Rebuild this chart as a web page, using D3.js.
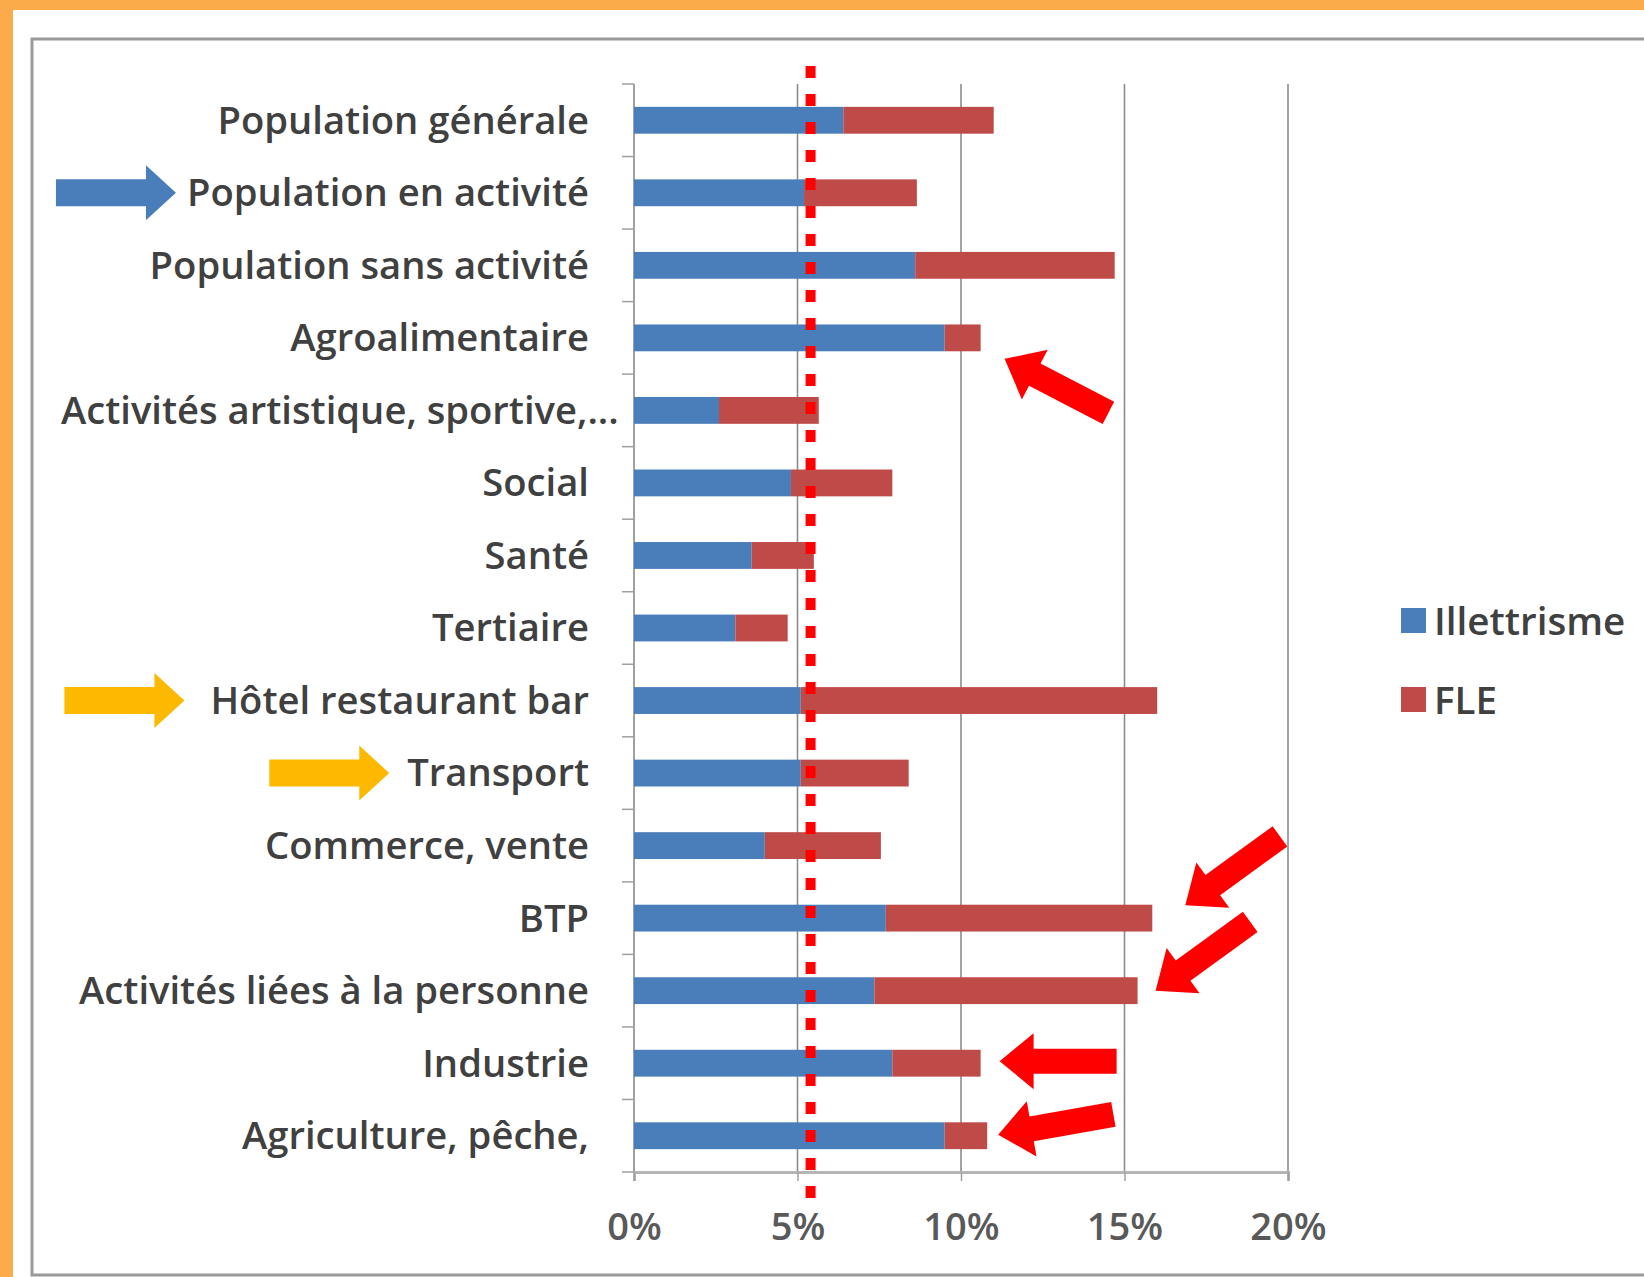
<!DOCTYPE html>
<meta charset="utf-8">
<html>
<head>
<style>
  body { margin: 0; background: #fbab49; }
  text.cat { font-family: "Open Sans", sans-serif; font-size: 38.2px; font-weight: 600; fill: #404040; }
  text.tick { font-family: "Open Sans", sans-serif; font-size: 38px; font-weight: 600; fill: #595959; }
  text.leg { font-family: "Open Sans", sans-serif; font-size: 38.6px; font-weight: 600; fill: #404040; }
</style>
<script src="https://cdn.jsdelivr.net/npm/d3@7"></script>
</head>
<body>
<div id="chart"></div>
<script>
// categories, top to bottom
var categories = ["Population générale", "Population en activité", "Population sans activité",
  "Agroalimentaire", "Activités artistique, sportive,...", "Social", "Santé", "Tertiaire",
  "Hôtel restaurant bar", "Transport", "Commerce, vente", "BTP",
  "Activités liées à la personne", "Industrie", "Agriculture, pêche,"];
var illettrisme = [6.4, 5.2, 8.6, 9.5, 2.6, 4.8, 3.6, 3.1, 5.1, 5.1, 4.0, 7.7, 7.35, 7.9, 9.5];
var fle         = [4.6, 3.45, 6.1, 1.1, 3.05, 3.1, 1.9, 1.6, 10.9, 3.3, 3.55, 8.15, 8.05, 2.7, 1.3];
var xTicks = [0, 5, 10, 15, 20];
var seuil = 5.4;   // ligne pointillée rouge
var legendLabels = ["Illettrisme", "FLE"];
var colors = ["#4a7ebb", "#be4b48"];

var W = 1644, H = 1277;
var svg = d3.select("#chart").append("svg").attr("width", W).attr("height", H);

// fond blanc + cadre gris
svg.append("rect").attr("x", 13).attr("y", 10).attr("width", W).attr("height", H).attr("fill", "#fff");
svg.append("rect").attr("x", 32).attr("y", 39).attr("width", W).attr("height", 1236)
   .attr("fill", "none").attr("stroke", "#9a9a9a").attr("stroke-width", 3);

var x = d3.scaleLinear().domain([0, 20]).range([634, 1288]);
var y = d3.scaleBand().domain(categories).range([84, 1172]).paddingInner(0.63).paddingOuter(0.315);
var step = y.step();

var rows = categories.map(function(c, i) { return { cat: c, Illettrisme: illettrisme[i], FLE: fle[i] }; });
var series = d3.stack().keys(legendLabels)(rows);

// grille verticale
svg.append("g").selectAll("line").data(xTicks.slice(1)).enter().append("line")
  .attr("x1", function(d) { return x(d); }).attr("x2", function(d) { return x(d); })
  .attr("y1", 84).attr("y2", 1172)
  .attr("stroke", "#8c8c8c").attr("stroke-width", 1.6);

// axe x
var xAxis = svg.append("g").attr("transform", "translate(0,1172)")
  .call(d3.axisBottom(x).tickValues(xTicks).tickSize(9).tickFormat(function(d) { return d + "%"; }));
xAxis.select(".domain").attr("stroke", "#b5b5b5").attr("stroke-width", 3);
xAxis.selectAll(".tick line").attr("stroke", "#a0a0a0").attr("stroke-width", 1.5);
xAxis.selectAll(".tick text").attr("class", "tick").attr("y", 55).attr("dy", "0.35em")
  .attr("font-size", null).attr("font-family", null);

// axe y
var yb = categories.map(function(c) { return y(c) - (step - y.bandwidth()) / 2; }).concat([1172]);
svg.append("line").attr("x1", x(0)).attr("x2", x(0)).attr("y1", 84).attr("y2", 1172)
  .attr("stroke", "#a0a0a0").attr("stroke-width", 2);
svg.append("g").selectAll("line").data(yb).enter().append("line")
  .attr("x1", x(0) - 12).attr("x2", x(0)).attr("y1", function(d) { return d; }).attr("y2", function(d) { return d; })
  .attr("stroke", "#a0a0a0").attr("stroke-width", 1.5);

// barres empilées
svg.append("g").selectAll("g").data(series).enter().append("g")
  .attr("fill", function(d, i) { return colors[i]; })
  .selectAll("rect").data(function(d) { return d; }).enter().append("rect")
  .attr("x", function(d) { return x(d[0]); })
  .attr("y", function(d) { return y(d.data.cat); })
  .attr("width", function(d) { return x(d[1]) - x(d[0]); })
  .attr("height", y.bandwidth());

// libellés
var labels = svg.append("g").selectAll("text").data(categories).enter().append("text")
  .attr("class", "cat")
  .attr("x", x(0) - 45)
  .attr("y", function(d) { return y(d) + y.bandwidth() / 2; })
  .attr("dy", "0.35em")
  .attr("text-anchor", "end")
  .text(function(d) { return d; });
labels.each(function() {
  var b = this.getBBox();
  if (b.x < 61) d3.select(this).attr("text-anchor", "start").attr("x", 61);
});

// ligne pointillée
svg.append("line").attr("x1", x(seuil)).attr("x2", x(seuil)).attr("y1", 66).attr("y2", 1206)
  .attr("stroke", "#ff0000").attr("stroke-width", 10).attr("stroke-dasharray", "12,16");

// légende
var leg = svg.append("g").selectAll("g").data(legendLabels).enter().append("g")
  .attr("transform", function(d, i) { return "translate(1401," + (608 + i * 79) + ")"; });
leg.append("rect").attr("width", 25).attr("height", 25).attr("fill", function(d, i) { return colors[i]; });
leg.append("text").attr("class", "leg").attr("x", 33).attr("y", 13).attr("dy", "0.35em").text(function(d) { return d; });

// flèches d'annotation
function arrowPath(len, sw, hw, hl) {
  return "M0,0 L" + (-hl) + "," + (-hw / 2) + " L" + (-hl) + "," + (-sw / 2) +
    " L" + (-len) + "," + (-sw / 2) + " L" + (-len) + "," + (sw / 2) +
    " L" + (-hl) + "," + (sw / 2) + " L" + (-hl) + "," + (hw / 2) + " Z";
}
// flèches vers les libellés
var leftArrows = [
  { cat: "Population en activité", gap: 11, color: "#4a7ebb" },
  { cat: "Hôtel restaurant bar", gap: 26, color: "#fdb800" },
  { cat: "Transport", gap: 18, color: "#fdb800" }
];
leftArrows.forEach(function(a) {
  var node = labels.filter(function(d) { return d === a.cat; }).node();
  var b = node.getBBox();
  svg.append("path").attr("d", arrowPath(120, 27, 55, 30)).attr("fill", a.color)
    .attr("transform", "translate(" + (b.x - a.gap) + "," + (y(a.cat) + y.bandwidth() / 2) + ")");
});
// flèches rouges vers les barres
var redArrows = [
  { cat: "Agroalimentaire", dx: 24, dy: 21, angle: -152.5 },
  { cat: "BTP", dx: 33, dy: -13, angle: 144 },
  { cat: "Activités liées à la personne", dx: 18, dy: 0, angle: 144 },
  { cat: "Industrie", dx: 19, dy: -2, angle: 180 },
  { cat: "Agriculture, pêche,", dx: 11, dy: -1, angle: 170 }
];
redArrows.forEach(function(a) {
  var i = categories.indexOf(a.cat);
  var tx = x(illettrisme[i] + fle[i]) + a.dx, ty = y(a.cat) + y.bandwidth() / 2 + a.dy;
  svg.append("path").attr("d", arrowPath(117, 25, 56, 34)).attr("fill", "#ff0000")
    .attr("transform", "translate(" + tx + "," + ty + ") rotate(" + a.angle + ")");
});
</script>
</body>
</html>
